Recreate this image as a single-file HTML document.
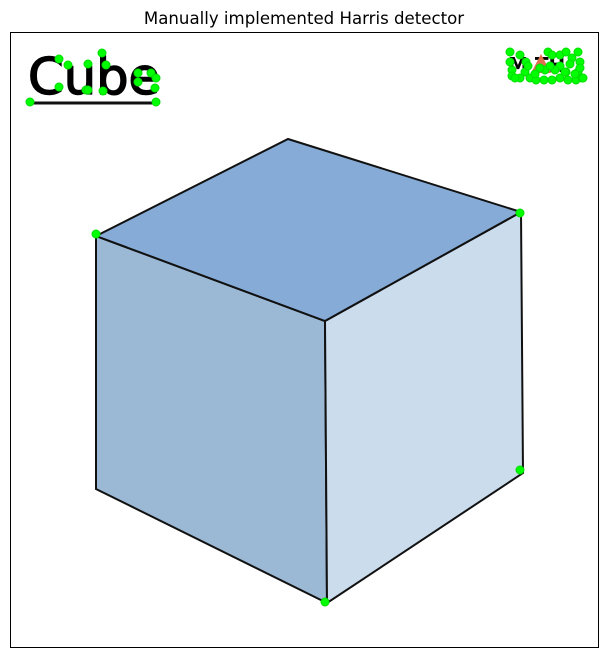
<!DOCTYPE html>
<html><head><meta charset="utf-8"><style>
body{margin:0;background:#fff;width:609px;height:658px;overflow:hidden}
svg{display:block}
text{font-family:"DejaVu Sans","Liberation Sans",sans-serif}
</style></head><body>
<svg id="c" width="609" height="658">
<text x="304" y="24" text-anchor="middle" font-size="16.6" fill="#000">Manually implemented Harris detector</text>
<rect x="10.5" y="32.5" width="588" height="615" fill="#fff" stroke="#000" stroke-width="1"/>
<polygon points="96,236 325,321 327,603 96,489" fill="#9bb8d4" stroke="#111" stroke-width="2"/>
<polygon points="325,321 521,212 523,473 327,603" fill="#cbdced" stroke="#111" stroke-width="2"/>
<polygon points="96,236 288,139 521,212 325,321" fill="#86abd6" stroke="#111" stroke-width="2"/>
<text x="28" y="94" font-size="50" fill="#000" stroke="#000" stroke-width="1.5" textLength="132" lengthAdjust="spacingAndGlyphs">Cube</text>
<line x1="28" y1="103" x2="158" y2="103" stroke="#111" stroke-width="3"/>
<text x="508" y="72" font-size="20" font-weight="bold" fill="#000">M  TH</text>
<polygon points="541,54 531,73 551,73" fill="#e07050"/>
<g id="pts"></g>
</svg>
<script>
const ptX=[59,68,59,86,88,102,106,88,103,138,151,156,138,155,30,156,96,520,325,520,
510,512,520,526,510,525,548,552,560,566,572,578,580,578,560,566,512,520,530,536,544,552,560,568,576,582,545,555,565,575,583,528,540,550,515,535,570,580];
const ptY=[59,65,87,90,90,53,65,64,91,73,73,78,82,88,102,102,234,213,602,470,
52,70,55,62,62,72,52,55,55,52,58,52,62,72,66,72,76,78,78,80,80,80,78,80,80,78,70,70,72,74,78,66,68,66,78,74,64,68];
const g=document.getElementById('pts');
for(let i=0;i<ptX.length;i++){
  const c=document.createElementNS('http://www.w3.org/2000/svg','circle');
  c.setAttribute('cx',ptX[i]);c.setAttribute('cy',ptY[i]);c.setAttribute('r',4);
  c.setAttribute('fill','#00ff00');c.setAttribute('stroke','#00dd00');
  
  
  g.appendChild(c);
}
</script>
</body></html>
